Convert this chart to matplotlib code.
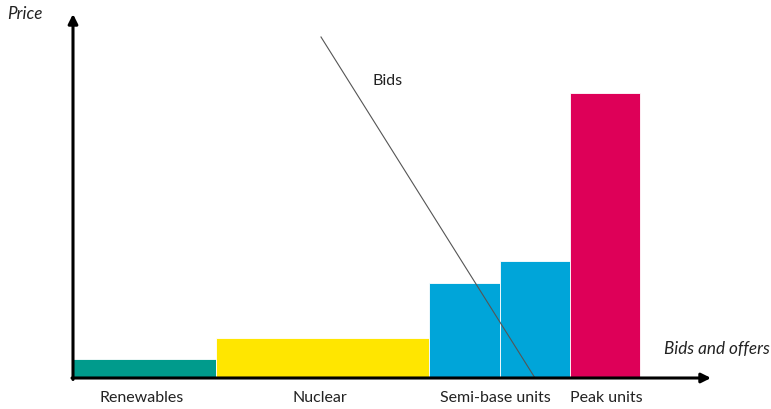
import numpy as np
import matplotlib.pyplot as plt

plt.rcParams['font.family'] = ['Lato', 'DejaVu Sans']

# merit order blocks (arbitrary units)
labels = ["Renewables", "Nuclear", "Semi-base units", "", "Peak units"]
capacity = [143, 213, 71, 70, 70]
price = [19, 40, 95, 117, 285]
colors = ["#009B8C", "#FFE600", "#00A5D9", "#00A5D9", "#DE0058"]

# demand (bids) line end points
bids_x = [248, 462]
bids_y = [341, 0]

fig = plt.figure(figsize=(7.71, 4.09), dpi=100)
ax = fig.add_axes([0, 0, 1, 1])
ax.set_xlim(-73, 698)
ax.set_ylim(-31, 378)
ax.axis("off")

left = np.concatenate([[0], np.cumsum(capacity)[:-1]])
ax.bar(left, price, width=capacity, align="edge", color=colors,
       edgecolor="white", linewidth=0.6, zorder=2)

# axes with arrows
ax.annotate("", xy=(0, 364), xytext=(0, -1.5),
            arrowprops=dict(arrowstyle="-|>", color="black", lw=2.2,
                            mutation_scale=14, shrinkA=0, shrinkB=0), zorder=4)
ax.annotate("", xy=(638, 0), xytext=(-1, 0),
            arrowprops=dict(arrowstyle="-|>", color="black", lw=2.2,
                            mutation_scale=14, shrinkA=0, shrinkB=0), zorder=4)

ax.plot(bids_x, bids_y, color="#555555", lw=0.8, zorder=3)

# category labels
label_x = [69, 247, 422, None, 533]
for t, x in zip(labels, label_x):
    if t:
        ax.text(x, -20, t, ha="center", va="center", fontsize=11.5, color="#222222")

ax.text(-66, 364, "Price", style="italic", fontsize=12.3, ha="left", va="center", color="#222222")
ax.text(591, 29, "Bids and offers", style="italic", fontsize=12.3, ha="left", va="center", color="#222222")
ax.text(299, 297, "Bids", fontsize=11.5, ha="left", va="center", color="#222222")

fig.savefig("out.png", dpi=100)
